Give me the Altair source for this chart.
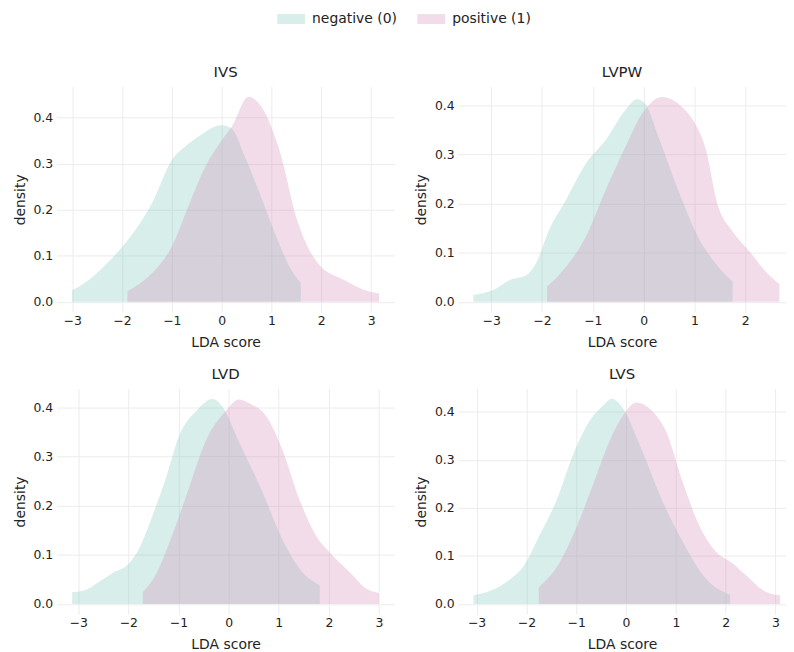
import altair as alt
import pandas as pd

CLASSES = ["negative (0)", "positive (1)"]
TEAL = "#7ac6b9"
PINK = "#d48ab9"
Y_TICKS = [0.0, 0.1, 0.2, 0.3, 0.4]

# IVS
IVS_NEG_X = [-3.0, -2.72, -2.27, -1.81, -1.40, -1.0, -0.74, -0.47, 0.0, 0.2, 0.47, 0.74, 1.07, 1.40, 1.59]
IVS_NEG_D = [0.025, 0.043, 0.087, 0.145, 0.214, 0.308, 0.337, 0.359, 0.384, 0.377, 0.315, 0.243, 0.149, 0.069, 0.041]
IVS_POS_X = [-1.89, -1.40, -1.0, -0.67, -0.33, 0.0, 0.2, 0.54, 0.80, 1.14, 1.54, 1.94, 2.47, 2.88, 3.16]
IVS_POS_D = [0.023, 0.062, 0.12, 0.207, 0.293, 0.351, 0.38, 0.446, 0.424, 0.337, 0.17, 0.083, 0.047, 0.025, 0.018]

# LVPW
LVPW_NEG_X = [-3.35, -2.96, -2.64, -2.31, -2.12, -1.86, -1.53, -1.14, -0.75, -0.36, -0.13, 0.03, 0.29, 0.68, 1.07, 1.47, 1.75]
LVPW_NEG_D = [0.014, 0.024, 0.044, 0.054, 0.078, 0.146, 0.207, 0.281, 0.329, 0.39, 0.412, 0.403, 0.336, 0.227, 0.132, 0.071, 0.041]
LVPW_POS_X = [-1.90, -1.53, -1.14, -0.75, -0.36, -0.03, 0.36, 0.75, 1.01, 1.21, 1.47, 1.73, 2.12, 2.38, 2.67]
LVPW_POS_D = [0.031, 0.071, 0.132, 0.227, 0.315, 0.383, 0.417, 0.397, 0.363, 0.315, 0.193, 0.146, 0.098, 0.064, 0.036]

# LVD
LVD_NEG_X = [-3.12, -2.84, -2.57, -2.31, -2.01, -1.78, -1.51, -1.25, -0.98, -0.65, -0.32, -0.13, 0.20, 0.67, 1.06, 1.46, 1.82]
LVD_NEG_D = [0.024, 0.029, 0.046, 0.063, 0.08, 0.114, 0.182, 0.256, 0.344, 0.392, 0.417, 0.402, 0.331, 0.229, 0.134, 0.066, 0.038]
LVD_POS_X = [-1.71, -1.45, -1.12, -0.79, -0.46, -0.06, 0.20, 0.47, 0.73, 1.06, 1.40, 1.73, 2.06, 2.46, 2.72, 3.0]
LVD_POS_D = [0.024, 0.06, 0.141, 0.236, 0.331, 0.392, 0.416, 0.405, 0.385, 0.317, 0.216, 0.141, 0.1, 0.06, 0.033, 0.022]

# LVS
LVS_NEG_X = [-3.06, -2.66, -2.33, -2.06, -1.73, -1.40, -1.06, -0.73, -0.47, -0.28, -0.07, 0.27, 0.73, 1.13, 1.59, 2.09]
LVS_NEG_D = [0.018, 0.03, 0.051, 0.078, 0.144, 0.214, 0.311, 0.381, 0.412, 0.427, 0.408, 0.332, 0.214, 0.131, 0.054, 0.019]
LVS_POS_X = [-1.75, -1.40, -1.0, -0.66, -0.33, 0.0, 0.2, 0.53, 0.80, 1.13, 1.46, 1.79, 2.13, 2.39, 2.79, 3.09]
LVS_POS_D = [0.035, 0.075, 0.158, 0.249, 0.339, 0.401, 0.419, 0.401, 0.36, 0.256, 0.165, 0.11, 0.085, 0.061, 0.026, 0.018]

# wide legend swatch (28 x 10 px at symbolSize 100)
LEGEND_SHAPE = "M-2.8,-1h5.6v2h-5.6z"


def make_df(negx, negd, posx, posd):
    rows = []
    for x, d in zip(negx, negd):
        rows.append({"x": x, "d": d, "cls": CLASSES[0]})
    for x, d in zip(posx, posd):
        rows.append({"x": x, "d": d, "cls": CLASSES[1]})
    return pd.DataFrame(rows)


def panel(name, df, xdom, ydom, xticks, width, legend):
    return alt.Chart(df, title=name).mark_area(opacity=0.3, interpolate="monotone").encode(
        x=alt.X("x:Q", scale=alt.Scale(domain=xdom, nice=False, zero=False),
                axis=alt.Axis(values=xticks, format="d", title="LDA score",
                              labelPadding=2.5, titlePadding=9)),
        y=alt.Y("d:Q", scale=alt.Scale(domain=ydom, nice=False, zero=False),
                axis=alt.Axis(values=Y_TICKS, format=".1f", title="density")),
        y2=alt.datum(0),
        color=alt.Color("cls:N", scale=alt.Scale(domain=CLASSES, range=[TEAL, PINK]),
                        legend=legend),
        detail="cls:N",
    ).properties(width=width, height=227)


legend = alt.Legend(orient="none", legendX=229, legendY=-75, direction="horizontal",
                    title=None, symbolType=LEGEND_SHAPE, symbolSize=100,
                    symbolOpacity=0.3, symbolStrokeWidth=0, labelFontSize=14,
                    labelFont="DejaVu Sans", labelColor="#222222",
                    columnPadding=20, labelOffset=14, padding=0)

p1 = panel("IVS", make_df(IVS_NEG_X, IVS_NEG_D, IVS_POS_X, IVS_POS_D),
           [-3.31, 3.47], [-0.0223, 0.468], [-3, -2, -1, 0, 1, 2, 3], 340, legend)
p2 = panel("LVPW", make_df(LVPW_NEG_X, LVPW_NEG_D, LVPW_POS_X, LVPW_POS_D),
           [-3.65, 2.80], [-0.0209, 0.438], [-3, -2, -1, 0, 1, 2], 330, legend)
p3 = panel("LVD", make_df(LVD_NEG_X, LVD_NEG_D, LVD_POS_X, LVD_POS_D),
           [-3.43, 3.31], [-0.0209, 0.438], [-3, -2, -1, 0, 1, 2, 3], 340, legend)
p4 = panel("LVS", make_df(LVS_NEG_X, LVS_NEG_D, LVS_POS_X, LVS_POS_D),
           [-3.37, 3.21], [-0.0214, 0.448], [-3, -2, -1, 0, 1, 2, 3], 330, legend)

chart = alt.vconcat(
    alt.hconcat(p1, p2, spacing=20),
    alt.hconcat(p3, p4, spacing=20),
    spacing=17,
).properties(
    padding={"left": 5, "top": 2, "right": 0, "bottom": 0}
).configure_axis(
    grid=True, gridColor="#ececec", gridWidth=1, domain=False, ticks=False,
    labelFont="DejaVu Sans", titleFont="DejaVu Sans", labelFontSize=12.5,
    titleFontSize=14, titleFontWeight="normal", labelColor="#222222",
    titleColor="#222222", labelPadding=4, titlePadding=6,
).configure_title(
    font="DejaVu Sans", fontSize=15, fontWeight="normal", color="#222222",
    anchor="middle", offset=7,
).configure_view(strokeWidth=0)

chart.save("out.html", embed_options={"renderer": "svg", "actions": False})
